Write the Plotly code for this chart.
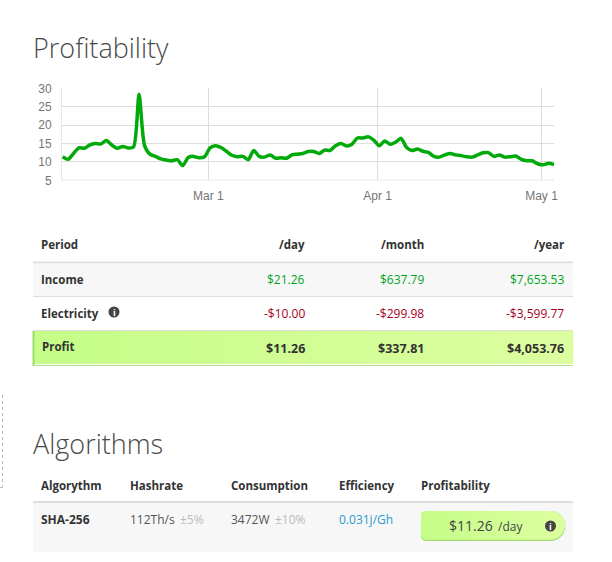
import pandas as pd
import plotly.graph_objects as go

W, H = 612, 562

profit = [11.4,10.7,12.3,13.8,13.7,14.6,15.0,14.9,15.8,14.6,13.7,14.2,13.8,14.1,28.4,14.5,12.1,11.5,10.8,10.5,
          10.3,10.6,9.0,11.2,11.5,11.1,11.4,13.8,14.4,13.9,12.9,11.8,11.4,11.5,10.6,13.1,11.5,11.3,11.9,11.0,
          11.1,11.0,11.9,12.1,12.3,12.8,12.8,12.3,13.2,13.1,14.4,15.0,14.3,14.8,16.5,16.5,16.8,15.9,14.4,15.7,
          14.8,15.4,16.4,13.9,13.1,13.5,12.9,12.6,11.5,11.3,11.9,12.3,11.9,11.7,11.4,11.3,11.9,12.5,12.5,11.5,
          11.9,11.3,11.4,11.6,10.7,10.3,10.3,9.5,9.2,9.6,9.3]
dates = pd.date_range("2018-02-02 07:00", periods=len(profit), freq="D")
x_tick_dates = ["2018-03-01", "2018-04-01", "2018-05-01"]
x_tick_labels = ["Mar 1", "Apr 1", "May 1"]
y_ticks = [5, 10, 15, 20, 25, 30]

title_main = "Profitability"
title_algo = "Algorithms"
period_headers = ["Period", "/day", "/month", "/year"]
income = ["Income", "$21.26", "$637.79", "$7,653.53"]
electricity = ["Electricity", "-$10.00", "-$299.98", "-$3,599.77"]
profit_row = ["Profit", "$11.26", "$337.81", "$4,053.76"]
algo_headers = ["Algorythm", "Hashrate", "Consumption", "Efficiency", "Profitability"]
algo_name = "SHA-256"
hashrate, hashrate_tol = "112Th/s", "±5%"
consumption, consumption_tol = "3472W", "±10%"
efficiency = "0.031j/Gh"
pill_value, pill_unit = "$11.26", "/day"

FONT = "Open Sans"
INK = "#333333"
GREEN = "#00a51e"
RED = "#a5001e"
LINE = "#dddddd"
ROW = "#f7f7f7"
G_L = (197, 253, 136)
G_R = (221, 254, 160)


def px(x):
    return x / W


def py(y):
    return 1 - y / H


fig = go.Figure(go.Scatter(
    x=dates, y=profit, mode="lines",
    line=dict(color="#00aa0b", width=3.5, shape="spline", smoothing=0.7),
    hoverinfo="skip", cliponaxis=False,
))

shapes, notes = [], []


def rect(x0, y0, x1, y1, color):
    shapes.append(dict(type="rect", xref="paper", yref="paper", layer="below",
                       x0=px(x0), x1=px(x1), y0=py(y0), y1=py(y1),
                       fillcolor=color, line=dict(width=0)))


def text(x, y, s, size=12, color=INK, anchor="left", weight=400, family=FONT):
    notes.append(dict(xref="paper", yref="paper", x=px(x), y=py(y), text=s, showarrow=False,
                      xanchor=anchor, yanchor="middle", align=anchor,
                      font=dict(family=family, size=size, color=color, weight=weight),
                      xshift=0, borderpad=0, borderwidth=0))


def mix(t):
    c = [round(a + (b - a) * t) for a, b in zip(G_L, G_R)]
    return f"rgb({c[0]},{c[1]},{c[2]})"


def info(cx, cy, r):
    shapes.append(dict(type="circle", xref="paper", yref="paper",
                       x0=px(cx - r), x1=px(cx + r), y0=py(cy - r), y1=py(cy + r),
                       fillcolor="#444444", line=dict(width=0)))
    text(cx, cy, "i", size=9, color="#ffffff", anchor="center", weight=700)


# titles
text(33, 47, title_main, size=27, color="#4a4a4a", weight=300)
text(33, 443.5, title_algo, size=27, color="#4a4a4a", weight=300)

# period table
cols = [(41, "left"), (305, "right"), (424, "right"), (564, "right")]
for (x, a), s in zip(cols, period_headers):
    text(x, 244.5, s, size=11.5, anchor=a, weight=700)
rect(33, 261.5, 573, 263.5, LINE)
rect(33, 263.5, 573, 296, ROW)
rect(33, 296, 573, 297, LINE)
rect(33, 330, 573, 331, LINE)
for i in range(54):
    rect(33 + i * 10, 331, 33 + (i + 1) * 10 + 0.5, 364, mix(i / 53))
rect(33, 364, 573, 365, "#ffffff")
rect(33, 365, 573, 366, "#b5dc8d")
rect(32.5, 331, 34.5, 366, "#9ddc6a")

text(41, 279, income[0], size=11.5, weight=700)
text(41, 313, electricity[0], size=11.5, weight=700)
text(42, 346.5, profit_row[0], size=11.5, weight=700)
info(114, 312, 5.5)
for (x, a), v1, v2, v3 in zip(cols[1:], income[1:], electricity[1:], profit_row[1:]):
    text(x, 279, v1, size=12, color=GREEN, anchor=a)
    text(x, 313, v2, size=12, color=RED, anchor=a)
    text(x, 348, v3, size=12.5, anchor=a, weight=700)

# dotted frame fragment
shapes.append(dict(type="line", xref="paper", yref="paper", x0=px(2.5), x1=px(2.5), y0=py(395), y1=py(487.5),
                   line=dict(color="#bbbbbb", width=1, dash="dot")))
shapes.append(dict(type="line", xref="paper", yref="paper", x0=0, x1=px(2.5), y0=py(487.5), y1=py(487.5),
                   line=dict(color="#bbbbbb", width=1, dash="dot")))

# algorithm table
for x, s in zip([41, 129.5, 231, 339, 421], algo_headers):
    text(x, 485, s, size=11.5, weight=700)
rect(33, 501, 573, 503, LINE)
rect(33, 503, 573, 552, ROW)
text(41, 519, algo_name, size=12, weight=700)
text(129.5, 519, hashrate, size=12, color="#555555")
text(180, 519, hashrate_tol, size=12, color="#bbbbbb")
text(231, 519, consumption, size=12, color="#555555")
text(275, 519, consumption_tol, size=12, color="#bbbbbb")
text(339, 519, efficiency, size=12, color="#2b97d0")

# profitability pill: 1px gradient columns following the rounded outline
p_l, p_r, p_t, p_b = 421, 565, 511, 541
r_l, r_r = 5, 15
n = p_r - p_l
for i in range(n):
    xc = p_l + i + 0.5
    inset = 0
    if xc < p_l + r_l:
        inset = r_l - (r_l ** 2 - (p_l + r_l - xc) ** 2) ** 0.5
    elif xc > p_r - r_r:
        inset = r_r - (r_r ** 2 - (xc - p_r + r_r) ** 2) ** 0.5
    rect(p_l + i, p_t + inset, p_l + i + 1.3, p_b - inset, "#a5dc72")
    rect(p_l + i, p_t + inset, p_l + i + 1.3, p_b - inset - 1.3, mix(i / (n - 1)))
text(449, 525, pill_value, size=14, color="#444444")
text(498, 526, pill_unit, size=12, color="#444444")
info(550.5, 526, 5.5)

fig.update_layout(
    width=W, height=H, autosize=False,
    margin=dict(l=0, r=0, t=0, b=0, autoexpand=False),
    paper_bgcolor="#ffffff", plot_bgcolor="#ffffff",
    showlegend=False,
    shapes=shapes, annotations=notes,
    xaxis=dict(domain=[px(62), px(554)], range=["2018-02-02 04:24", "2018-05-03 07:00"],
               tickvals=x_tick_dates, ticktext=x_tick_labels, showgrid=True, gridcolor="#dddddd", gridwidth=1,
               zeroline=False, ticks="", showline=False, ticklabelstandoff=7,
               tickfont=dict(family="Liberation Sans", size=12, color="#757575")),
    yaxis=dict(domain=[py(180.3), py(88.3)], range=[5, 30], tickvals=y_ticks,
               showgrid=True, gridcolor="#dddddd", gridwidth=1, zeroline=False,
               showline=True, linecolor="#e6e6e6", linewidth=1, ticks="", ticklabelstandoff=7,
               tickfont=dict(family="Liberation Sans", size=12, color="#757575")),
)
fig.add_hline(y=5, line=dict(color="#c4c4c4", width=1))

fig.write_html("out.html", config={"displayModeBar": False},
               post_script="document.body.style.margin='0';document.body.style.overflow='hidden';")
